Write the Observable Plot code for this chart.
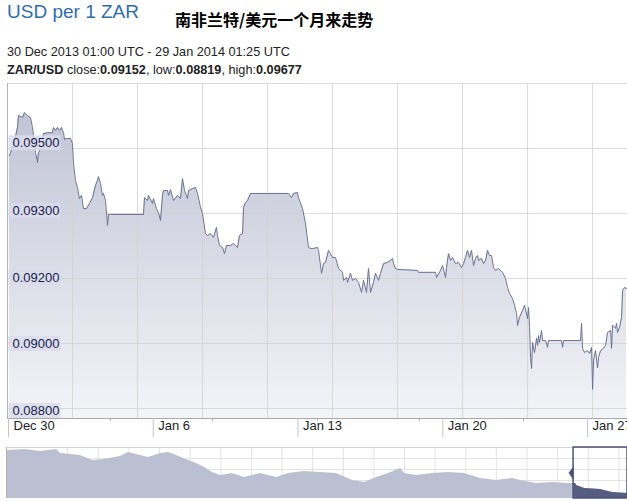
<!DOCTYPE html>
<html><head><meta charset="utf-8">
<script src="https://cdn.jsdelivr.net/npm/d3@7"></script>
<script src="https://cdn.jsdelivr.net/npm/@observablehq/plot@0.6"></script>
<style>
body{margin:0;background:#fff;width:627px;height:501px;overflow:hidden;position:relative;font-family:Arial,"Liberation Sans",sans-serif;}
.t{position:absolute;white-space:nowrap;}
#main,#nav{position:absolute;left:0;}
</style></head><body>
<div class="t" style="left:7px;top:2.4px;font-size:19px;line-height:19px;color:#2f6ea9;">USD per 1 ZAR</div>
<div class="t" style="left:175px;top:10.5px;font-size:16px;line-height:16px;font-weight:bold;font-family:'Noto Sans CJK SC';color:#000">南非兰特/美元一个月来走势</div>
<div class="t" style="left:7px;top:45.6px;font-size:12.7px;line-height:13px;color:#222">30 Dec 2013 01:00 UTC - 29 Jan 2014 01:25 UTC</div>
<div class="t" style="left:7px;top:63.6px;font-size:12.7px;line-height:13px;color:#222"><b>ZAR/USD</b> close:<b>0.09152</b>, low:<b>0.08819</b>, high:<b>0.09677</b></div>
<div id="main" style="top:80px"></div>
<div id="nav" style="top:445px"></div>
<script>
// ---- main series: days since 30 Dec 2013 00:00 UTC, ZAR/USD rate ----
const days = [0.04,0.097,0.242,0.435,0.484,0.677,0.774,0.919,1.064,1.161,1.209,1.306,1.402,1.451,1.644,1.692,1.886,2.128,2.176,2.273,2.369,2.466,2.563,2.660,2.708,2.805,2.998,3.095,3.143,3.240,3.337,3.433,3.530,3.627,3.772,3.917,4.062,4.207,4.304,4.352,4.449,4.545,4.594,4.691,4.787,4.836,4.932,6.528,6.576,6.721,6.770,6.963,7.012,7.157,7.253,7.350,7.447,7.495,7.689,7.737,7.834,7.979,8.172,8.317,8.414,8.511,8.656,8.704,8.898,9.043,9.139,9.284,9.381,9.526,9.623,9.768,9.913,10.058,10.106,10.203,10.348,10.445,10.541,10.735,10.880,11.073,11.170,11.315,11.364,11.460,11.557,11.702,13.540,13.685,13.781,13.975,14.023,14.217,14.362,14.507,14.604,14.749,14.942,14.991,15.135,15.232,15.329,15.474,15.667,15.812,15.957,16.151,16.199,16.344,16.393,16.538,16.634,16.780,16.925,17.070,17.166,17.311,17.408,17.505,17.650,17.747,17.892,17.988,18.134,18.327,18.472,18.569,18.617,18.714,18.810,19.778,19.826,20.648,20.696,20.890,20.987,21.132,21.180,21.277,21.373,21.470,21.615,21.760,21.905,22.002,22.099,22.195,22.292,22.389,22.486,22.582,22.679,22.727,22.873,22.969,23.066,23.163,23.259,23.356,23.453,23.549,23.694,23.888,24.033,24.130,24.226,24.371,24.468,24.565,24.613,24.710,24.855,24.952,25.097,25.145,25.194,25.242,25.290,25.339,25.436,25.532,25.581,25.629,25.677,25.774,25.823,25.968,26.064,26.113,26.741,26.790,26.838,27.660,27.709,27.757,27.854,27.999,28.096,28.192,28.241,28.289,28.386,28.482,28.531,28.627,28.772,28.869,28.966,29.111,29.159,29.207,29.352,29.401,29.449,29.546,29.643,29.691,29.787,29.884];
const rates = [0.09543,0.09553,0.09574,0.09630,0.09667,0.09661,0.09676,0.09667,0.09661,0.09630,0.09605,0.09553,0.09522,0.09553,0.09574,0.09611,0.09614,0.09614,0.09630,0.09621,0.09630,0.09621,0.09630,0.09614,0.09593,0.09596,0.09596,0.09580,0.09519,0.09466,0.09444,0.09410,0.09420,0.09379,0.09379,0.09395,0.09413,0.09451,0.09466,0.09478,0.09457,0.09420,0.09426,0.09404,0.09327,0.09361,0.09361,0.09361,0.09413,0.09404,0.09420,0.09395,0.09410,0.09379,0.09367,0.09342,0.09420,0.09435,0.09435,0.09420,0.09438,0.09404,0.09420,0.09410,0.09472,0.09435,0.09410,0.09435,0.09441,0.09444,0.09426,0.09383,0.09364,0.09302,0.09296,0.09302,0.09290,0.09321,0.09296,0.09265,0.09259,0.09240,0.09265,0.09265,0.09271,0.09259,0.09296,0.09302,0.09383,0.09398,0.09404,0.09426,0.09426,0.09413,0.09426,0.09429,0.09413,0.09379,0.09333,0.09259,0.09256,0.09256,0.09259,0.09250,0.09179,0.09209,0.09213,0.09250,0.09228,0.09228,0.09194,0.09182,0.09157,0.09166,0.09151,0.09179,0.09157,0.09163,0.09151,0.09120,0.09157,0.09120,0.09194,0.09120,0.09151,0.09179,0.09157,0.09179,0.09209,0.09213,0.09219,0.09225,0.09209,0.09194,0.09191,0.09188,0.09182,0.09182,0.09166,0.09188,0.09203,0.09166,0.09197,0.09240,0.09219,0.09228,0.09209,0.09213,0.09197,0.09209,0.09228,0.09250,0.09228,0.09250,0.09203,0.09225,0.09234,0.09219,0.09225,0.09209,0.09219,0.09250,0.09234,0.09234,0.09197,0.09188,0.09194,0.09182,0.09163,0.09135,0.09117,0.09101,0.09080,0.09055,0.09018,0.09043,0.09064,0.09080,0.09039,0.09073,0.09012,0.08919,0.08885,0.08965,0.08934,0.08978,0.08956,0.08987,0.08965,0.09002,0.08971,0.08971,0.08950,0.08971,0.08971,0.08950,0.08971,0.08971,0.09024,0.08947,0.08934,0.08940,0.08931,0.08950,0.08820,0.08910,0.08940,0.08887,0.08919,0.08940,0.08947,0.08956,0.08996,0.09002,0.08947,0.09018,0.09009,0.09024,0.08996,0.09012,0.09043,0.09126,0.09135,0.09132];

// y gridlines (first = top of frame) and y tick labels as printed
const yGrid = [0.09766, 0.09565, 0.09364, 0.09163, 0.08962, 0.08761];
const yLabelAt = [0.09583, 0.09373, 0.09166, 0.08962, 0.08755];
const yTickLabels = ["0.09500", "0.09300", "0.09200", "0.09000", "0.08800"];
// x labels (day offsets) and gridlines
const xTickDays = [0, 7, 14, 21, 28];
const xTickLabels = ["Dec 30", "Jan 6", "Jan 13", "Jan 20", "Jan 27"];
const xMinorDays = [4.93, 9.86, 14.94, 19.87, 24.90];
const xGridDays = [3.095, 6.238, 9.381, 12.524, 15.667, 18.810, 21.954, 25.097, 28.240];

// ---- navigator (one year history): days since 28 Jan 2013, rate ----
const navDays = [0,10.6,20.0,29.4,31.8,43.5,50.6,57.6,67.0,71.7,76.4,83.5,90.6,95.3,100.0,107.0,111.7,116.4,121.1,125.8,132.9,139.9,149.4,158.8,165.8,175.2,184.6,194.0,203.4,210.5,217.6,224.6,231.7,234.0,241.1,250.5,259.9,269.3,278.7,288.1,297.5,302.2,311.6,321.0,330.5,333.4,334.6,335.2,339.9,349.3,356.3,365.1];
const navRates = [0.11415,0.1147,0.1136,0.1147,0.1125,0.1114,0.10865,0.1092,0.11085,0.11305,0.11195,0.1103,0.1125,0.11305,0.1114,0.10865,0.1070,0.1048,0.10205,0.1004,0.1015,0.0993,0.1015,0.0993,0.1015,0.1026,0.10205,0.1015,0.09765,0.09655,0.0993,0.1015,0.10425,0.1015,0.1004,0.1015,0.10205,0.1015,0.09875,0.09765,0.09875,0.09765,0.0960,0.09655,0.0960,0.0960,0.0960,0.0949,0.09325,0.0927,0.09105,0.0905];
const navGridY = [0.1098, 0.10375, 0.0977];
const navGridDays = [36,54,72,90,108,126,144,162,180,198,216,234,252,270,288,306,324,342,360];
const navWindowStartDay = 333.4;

if (days.length !== rates.length) throw new Error("main lengths " + days.length + " vs " + rates.length);
if (navDays.length !== navRates.length) throw new Error("nav lengths");

const DAY = 864e5;
const t0 = Date.UTC(2013, 11, 30);
const toDate = d => new Date(t0 + d * DAY);
const series = days.map((d, i) => ({date: toDate(d), rate: rates[i]}));
const xDomain = [toDate(-0.048), toDate(29.93)];
const yDomain = [0.08730, 0.09766];
const font = "Arial, 'Liberation Sans', sans-serif";

const gradDefs = () => {
  const defs = d3.create("svg:defs");
  const g = defs.append("linearGradient").attr("id", "areaGrad")
    .attr("x1", 0).attr("x2", 0).attr("y1", 0).attr("y2", 1);
  g.append("stop").attr("offset", "0%").attr("stop-color", "#c1c4d5");
  g.append("stop").attr("offset", "100%").attr("stop-color", "#f3f4f8");
  return defs.node();
};
const boxSym = {draw(ctx) { ctx.rect(1, -7.5, 52, 15); }};

const main = Plot.plot({
  width: 627, height: 365,
  marginLeft: 7, marginRight: 0, marginTop: 3, marginBottom: 27,
  style: {background: "transparent", fontFamily: font, overflow: "visible"},
  x: {type: "utc", domain: xDomain, axis: null},
  y: {domain: yDomain, axis: null},
  marks: [
    gradDefs,
    Plot.areaY(series, {x: "date", y: "rate", y1: yDomain[0], fill: "url(#areaGrad)"}),
    Plot.ruleY(yGrid, {stroke: "#d2d2d2", strokeOpacity: 0.8}),
    Plot.ruleX(xGridDays, {x: d => toDate(d), stroke: "#d2d2d2", strokeOpacity: 0.8}),
    Plot.lineY(series, {x: "date", y: "rate", stroke: "#6b7191", strokeWidth: 1}),
    Plot.ruleX([xDomain[0]], {stroke: "#b4b4b4"}),
    Plot.ruleY([yDomain[0]], {stroke: "#a9a9a9"}),
    Plot.dot(yLabelAt, {y: d => d, frameAnchor: "left", symbol: boxSym, fill: "#d9dcea", fillOpacity: 0.85, stroke: "none"}),
    Plot.text(yLabelAt, {y: d => d, text: (d, i) => yTickLabels[i], frameAnchor: "left", dx: 5, textAnchor: "start", fontSize: 13, fill: "#1b2150"}),
    Plot.ruleX(xTickDays, {x: d => toDate(d), insetTop: 335, insetBottom: -19, stroke: "#c4c4c4"}),
    Plot.ruleX(xMinorDays, {x: d => toDate(d), insetTop: 335, insetBottom: -3, stroke: "#b0b0b0"}),
    Plot.text(xTickDays, {x: d => toDate(d), text: (d, i) => xTickLabels[i], frameAnchor: "bottom", dy: 11, dx: 5, textAnchor: "start", fontSize: 13, fill: "#222"})
  ]
});
document.getElementById("main").append(main);

// ---- navigator ----
const n0 = Date.UTC(2013, 0, 28);
const toNav = d => new Date(n0 + d * DAY);
const navSeries = navDays.map((d, i) => ({date: toNav(d), rate: navRates[i]}));
const winStart = toNav(navWindowStartDay);
const navXDomain = [toNav(0), toNav(365.1)];
const navYDomain = [0.0878, 0.11585];
const windowSeries = navSeries.filter(d => d.date >= winStart);
const triSym = {draw(ctx) { ctx.moveTo(0, -7); ctx.lineTo(-5, 0); ctx.lineTo(0, 7); ctx.closePath(); }};

const nav = Plot.plot({
  width: 627, height: 56,
  marginLeft: 6, marginRight: 0, marginTop: 2, marginBottom: 3,
  style: {background: "transparent", fontFamily: font, overflow: "visible"},
  x: {type: "utc", domain: navXDomain, axis: null},
  y: {domain: navYDomain, axis: null},
  marks: [
    Plot.ruleY(navGridY, {stroke: "#e2e2e2"}),
    Plot.ruleX(navGridDays, {x: d => toNav(d), stroke: "#e2e2e2"}),
    Plot.ruleY([navYDomain[1]], {stroke: "#d4d4d4"}),
    Plot.areaY(navSeries, {x: "date", y: "rate", y1: navYDomain[0], fill: "#bbbfd2"}),
    Plot.areaY(windowSeries, {x: "date", y: "rate", y1: navYDomain[0], fill: "#575d80"}),
    Plot.ruleX([navXDomain[0]], {stroke: "#b4b4b4"}),
    Plot.rect([0], {x1: () => winStart, x2: () => navXDomain[1], stroke: "#4e5477", strokeWidth: 1.5, fill: "none"}),
    Plot.dot([winStart], {x: d => d, symbol: triSym, fill: "#4e5477", stroke: "none"})
  ]
});
document.getElementById("nav").append(nav);
</script>
</body></html>
